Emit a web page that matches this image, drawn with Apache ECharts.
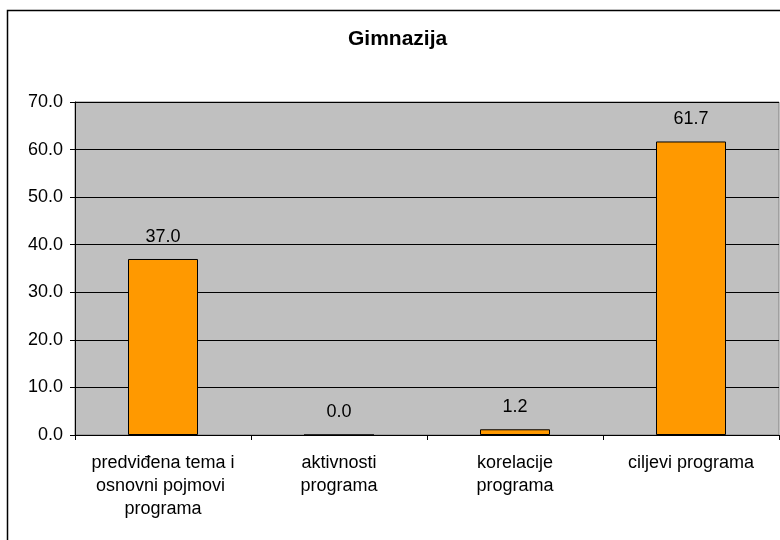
<!DOCTYPE html>
<html>
<head>
<meta charset="utf-8">
<script src="https://cdn.jsdelivr.net/npm/echarts@6/dist/echarts.min.js"></script>
<style>
  html, body { margin: 0; padding: 0; background: #fff; }
  #chart { width: 780px; height: 540px; }
</style>
</head>
<body>
<div id="chart"></div>
<script>
// podaci
var categories = ['predviđena tema i\nosnovni pojmovi \nprograma', 'aktivnosti\nprograma', 'korelacije\nprograma', 'ciljevi programa']
var values = [37.0, 0.0, 1.2, 61.7]
var titleText = 'Gimnazija'

var chart = echarts.init(document.getElementById('chart'))
chart.setOption({
  animation: false,
  backgroundColor: '#ffffff',
  title: {
    text: titleText,
    left: 343,
    top: 24,
    textStyle: {
      fontFamily: 'Liberation Sans',
      fontSize: 21,
      fontWeight: 'bold',
      color: '#000'
    }
  },
  graphic: [
    {
      type: 'rect',
      shape: { x: 7.5, y: 10.5, width: 800, height: 600 },
      style: { fill: 'none', stroke: '#000', lineWidth: 1.5 },
      silent: true
    }
  ],
  grid: {
    left: 75,
    right: 1,
    top: 102,
    bottom: 105,
    show: true,
    backgroundColor: '#c0c0c0',
    borderColor: '#808080',
    borderWidth: 1
  },
  xAxis: {
    type: 'category',
    data: categories,
    axisLine: { lineStyle: { color: '#000', width: 1 } },
    axisTick: { show: true, alignWithLabel: false, length: 5, lineStyle: { color: '#000' } },
    axisLabel: {
      interval: 0,
      margin: 17,
      color: '#000',
      fontFamily: 'Liberation Sans',
      fontSize: 18,
      lineHeight: 23,
      align: 'center'
    }
  },
  yAxis: {
    type: 'value',
    min: 0,
    max: 70,
    interval: 10,
    axisLine: { show: true, lineStyle: { color: '#000', width: 1 } },
    axisTick: { show: true, length: 5, lineStyle: { color: '#000' } },
    splitLine: { lineStyle: { color: '#000', width: 1 } },
    axisLabel: {
      margin: 12,
      color: '#000',
      fontFamily: 'Liberation Sans',
      fontSize: 18,
      formatter: function (v) { return v.toFixed(1) }
    }
  },
  series: [
    {
      type: 'bar',
      data: values,
      barWidth: 70,
      itemStyle: { color: '#ff9900', borderColor: '#000', borderWidth: 1 },
      label: {
        show: true,
        position: 'top',
        distance: 13,
        color: '#000',
        fontFamily: 'Liberation Sans',
        fontSize: 18,
        formatter: function (p) { return p.value.toFixed(1) }
      }
    }
  ]
})
</script>
</body>
</html>
